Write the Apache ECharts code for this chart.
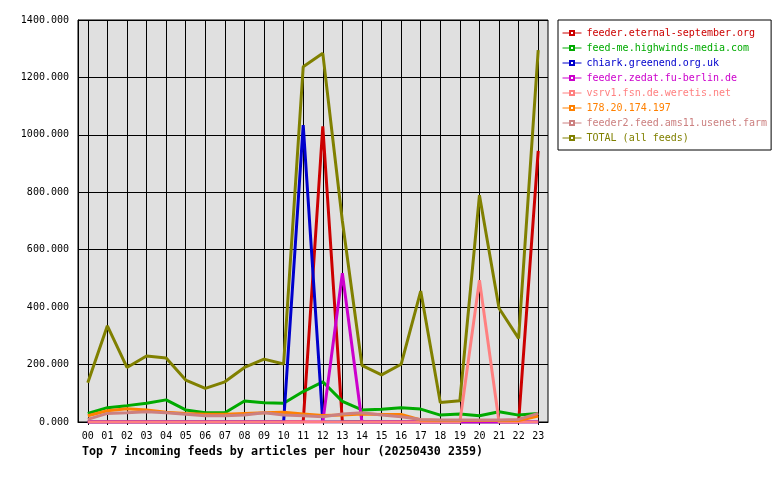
<!DOCTYPE html>
<html>
<head>
<meta charset="utf-8">
<script src="https://cdn.jsdelivr.net/npm/echarts@6/dist/echarts.min.js"></script>
<style>
  html, body { margin: 0; padding: 0; background: #fff; }
  #chart { width: 780px; height: 480px; }
</style>
</head>
<body>
<div id="chart"></div>
<script>
// hours on the x axis
var hours = ['00','01','02','03','04','05','06','07','08','09','10','11',
             '12','13','14','15','16','17','18','19','20','21','22','23'];

var feedNames = [
    'feeder.eternal-september.org',
    'feed-me.highwinds-media.com',
    'chiark.greenend.org.uk',
    'feeder.zedat.fu-berlin.de',
    'vsrv1.fsn.de.weretis.net',
    '178.20.174.197',
    'feeder2.feed.ams11.usenet.farm',
    'TOTAL (all feeds)'
];
var feedColors = ['#cc0000', '#00aa00', '#0000cc', '#cc00cc', '#ff8080', '#ff8000', '#cc8080', '#808000'];

// articles per hour
var eternal  = [0,0,0,0,0,0,0,0,0,0,0,0,1030,0,0,0,0,0,0,0,0,0,0,944];
var highwinds = [30,50,57,65,77,42,32,32,73,67,65,106,140,72,42,44,50,45,24,28,22,36,24,30];
var chiark   = [0,0,0,0,0,0,0,0,0,0,0,1034,0,0,0,0,0,0,0,0,0,0,0,0];
var zedat    = [0,0,0,0,0,0,0,0,0,0,0,0,0,518,0,0,0,0,0,0,0,0,0,0];
var weretis  = [0,0,0,0,0,0,0,0,0,0,0,0,0,0,0,0,0,0,0,0,494,0,0,0];
var ip178    = [22,39,46,42,34,30,27,27,30,32,34,28,23,24,28,26,26,7,5,5,5,5,5,21];
var usenetFarm = [9,30,32,36,32,27,22,22,24,32,24,22,18,28,32,24,18,9,7,7,7,7,9,30];
var total    = [137,335,190,230,223,146,117,140,190,219,202,1237,1284,700,197,164,201,456,68,74,790,396,291,1295];

var feedValues = [eternal, highwinds, chiark, zedat, weretis, ip178, usenetFarm, total];

var yTicks = [0, 200, 400, 600, 800, 1000, 1200, 1400];

var mono = 'DejaVu Sans Mono';

var chart = echarts.init(document.getElementById('chart'));

var series = feedNames.map(function (name, i) {
    return {
        name: name,
        type: 'line',
        data: feedValues[i],
        symbol: 'emptyRect',
        showSymbol: false,
        color: feedColors[i],
        lineStyle: { width: 3, color: feedColors[i] },
        emphasis: { disabled: true }
    };
});

var option = {
    animation: false,
    title: {
        text: 'Top 7 incoming feeds by articles per hour (20250430 2359)',
        left: 82,
        top: 446,
        padding: 0,
        textStyle: { fontFamily: mono, fontSize: 11.7, fontWeight: 'bold', color: '#000' }
    },
    legend: {
        orient: 'vertical',
        left: 558,
        top: 20,
        padding: [7, 4, 6, 4],
        itemWidth: 19,
        itemHeight: 5,
        itemGap: 3,
        selectedMode: false,
        backgroundColor: '#fff',
        borderColor: '#000',
        borderWidth: 1,
        borderRadius: 0,
        lineStyle: { width: 1 },
        textStyle: { fontFamily: mono, fontSize: 10, lineHeight: 12 },
        data: feedNames.map(function (n, i) {
            return { name: n, textStyle: { color: feedColors[i] } };
        })
    },
    grid: {
        left: 78,
        right: 232,
        top: 20,
        bottom: 58,
        show: true,
        backgroundColor: '#e0e0e0',
        borderColor: '#000',
        borderWidth: 1
    },
    xAxis: {
        type: 'category',
        data: hours,
        boundaryGap: true,
        axisLine: { lineStyle: { color: '#000', width: 1 } },
        axisTick: { show: true, alignWithLabel: true, length: 3, lineStyle: { color: '#000' } },
        axisLabel: { fontFamily: mono, fontSize: 10, color: '#000', margin: 9, interval: 0 },
        splitLine: { show: true, alignWithLabel: true, interval: 0, lineStyle: { color: '#000', width: 1 } }
    },
    yAxis: {
        type: 'value',
        min: yTicks[0],
        max: yTicks[yTicks.length - 1],
        interval: 200,
        axisLine: { show: true, lineStyle: { color: '#000' } },
        axisTick: { show: false },
        axisLabel: {
            fontFamily: mono, fontSize: 10, color: '#000', margin: 9,
            formatter: function (v) { return v.toFixed(3); }
        },
        splitLine: { show: true, lineStyle: { color: '#000', width: 1 } }
    },
    series: series
};

chart.setOption(option);
</script>
</body>
</html>
